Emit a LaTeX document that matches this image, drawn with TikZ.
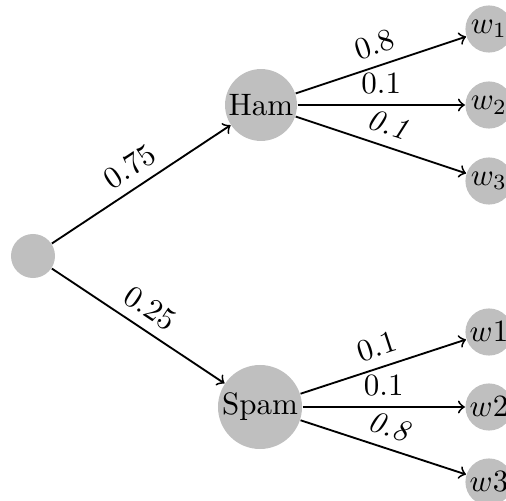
\documentclass[tikz,border=0pt]{standalone}
\begin{document}
\begin{tikzpicture}[x=0.3226pt,y=-0.3226pt,
  dot/.style={circle,fill=lightgray,draw=none,inner sep=0pt},
  rootnode/.style={dot,minimum size=14.2pt},
  hamnode/.style={dot,minimum size=23.2pt},
  spamnode/.style={dot,minimum size=27.1pt},
  leaf/.style={dot,minimum size=15.2pt},
  edge/.style={->,semithick},
  lab/.style={midway,sloped,above}]
\useasboundingbox (0,0) rectangle (506,501);
\node[rootnode] (r) at (33,256) {};
\node[hamnode] (h) at (261,105) {Ham};
\node[spamnode] (s) at (260,407) {Spam};
\node[leaf] (h1) at (489,29) {$w_1$};
\node[leaf] (h2) at (489,105) {$w_2$};
\node[leaf] (h3) at (489,181) {$w_3$};
\node[leaf] (s1) at (489,332) {$w1$};
\node[leaf] (s2) at (489,407) {$w2$};
\node[leaf] (s3) at (489,482) {$w3$};
\draw[edge] (r) -- node[lab] {$0.75$} (h);
\draw[edge] (r) -- node[lab] {$0.25$} (s);
\draw[edge] (h) -- node[lab] {$0.8$} (h1);
\draw[edge] (h) -- node[lab] {$0.1$} (h2);
\draw[edge] (h) -- node[lab] {\textit{0.1}} (h3);
\draw[edge] (s) -- node[lab] {$0.1$} (s1);
\draw[edge] (s) -- node[lab] {$0.1$} (s2);
\draw[edge] (s) -- node[lab] {\textit{0.8}} (s3);
\end{tikzpicture}
\end{document}
